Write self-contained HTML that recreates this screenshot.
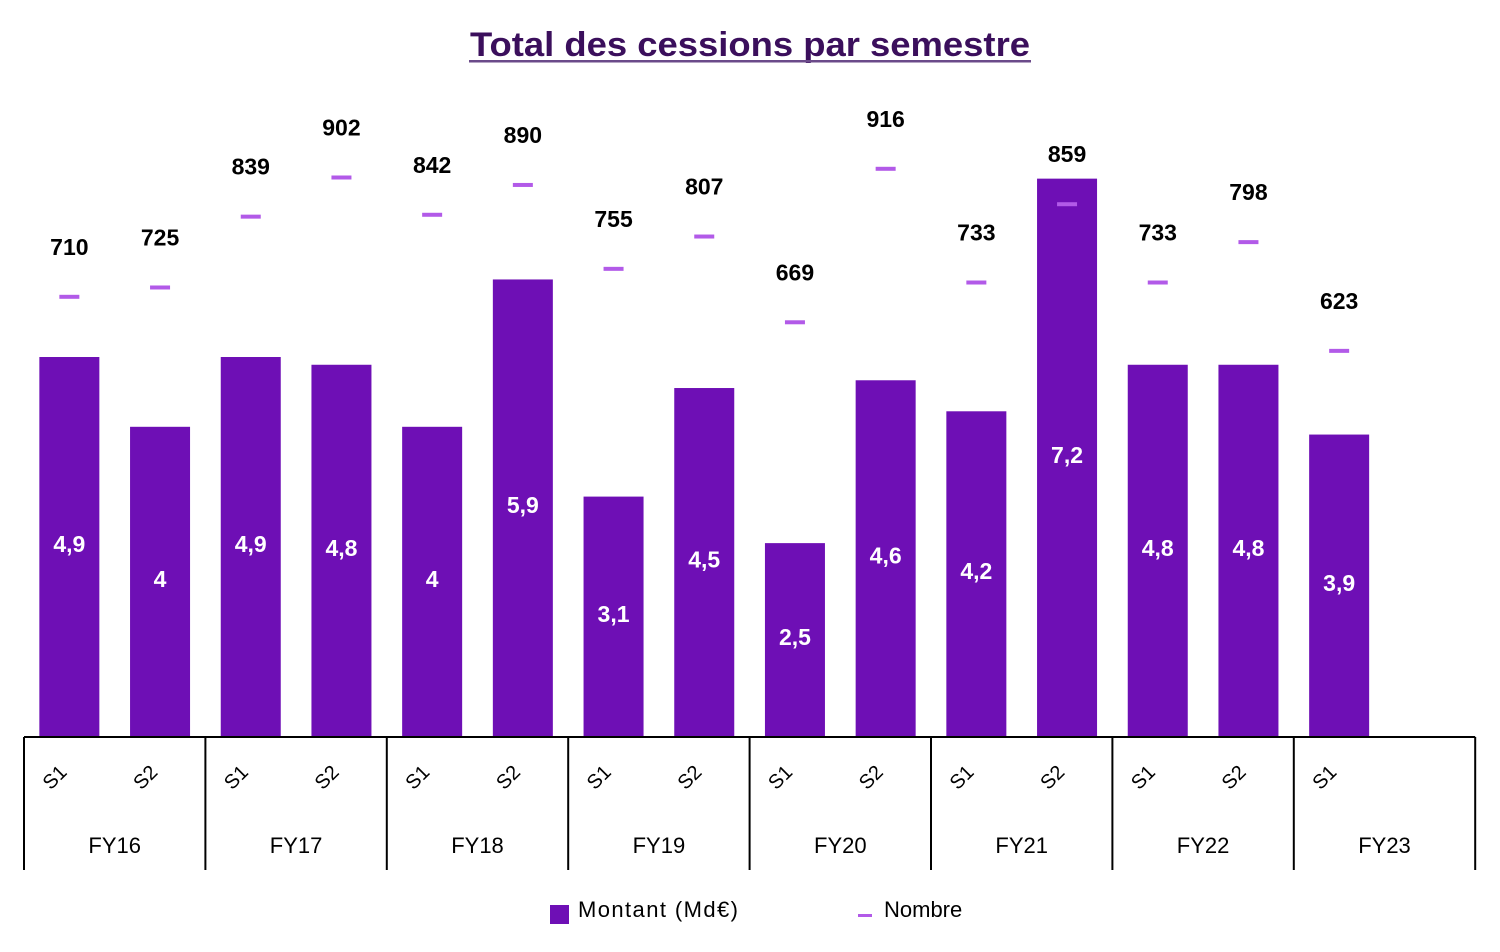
<!DOCTYPE html>
<html><head><meta charset="utf-8">
<style>
html,body{margin:0;padding:0;background:#fff;}
svg{display:block;font-family:"Liberation Sans",sans-serif;}
</style></head>
<body>
<svg id="chart" width="1500" height="952" viewBox="0 0 1500 952">
  <text x="750" y="56" text-anchor="middle" font-size="34" font-weight="bold" fill="#3b0f5c" textLength="560" lengthAdjust="spacingAndGlyphs">Total des cessions par semestre</text>
  <rect x="469" y="60" width="562" height="2.5" fill="#6b4a8a"/>
  <g id="plot"></g>
  <g>
    <g>
      <rect x="550" y="905" width="19" height="19" fill="#6e0fb5"/>
      <text x="578" y="917" font-size="22" fill="#000" textLength="160">Montant (Md€)</text>
    </g>
    <g>
      <rect x="858" y="914" width="14" height="3" fill="#b25ae8"/>
      <text x="884" y="917" font-size="22" fill="#000">Nombre</text>
    </g>
  </g>
</svg>
<script>
const years = ["FY16","FY17","FY18","FY19","FY20","FY21","FY22","FY23"];
const semesters = ["S1","S2","S1","S2","S1","S2","S1","S2","S1","S2","S1","S2","S1","S2","S1"];
const montant = [4.9,4,4.9,4.8,4,5.9,3.1,4.5,2.5,4.6,4.2,7.2,4.8,4.8,3.9];
const nombre = [710,725,839,902,842,890,755,807,669,916,733,859,733,798,623];

const NS = "http://www.w3.org/2000/svg";
const plot = document.getElementById('plot');
const baseY = 737, left = 24, groupW = 181.4, slotW = groupW/2, barW = 60;
function xCenter(i){ return left + slotW*i + slotW/2; }
function yMontant(v){ return baseY - v*77.55; }
function yNombre(v){ return baseY + 1 - v*0.6214; }
function mk(tag, attrs){ const e=document.createElementNS(NS,tag); for(const k in attrs) e.setAttribute(k,attrs[k]); return e; }

montant.forEach((v,i)=>{
  const cx = xCenter(i), top = yMontant(v);
  const r = mk('rect',{x:cx-barW/2,y:top,width:barW,height:baseY-top,fill:'#6e0fb5'});
  
  
  plot.appendChild(r);
  const t = mk('text',{x:cx,y:(top+baseY)/2+5,'text-anchor':'middle','font-size':23,'font-weight':'bold',fill:'#fff'});
  t.textContent = String(v).replace('.',',');
  
  
  plot.appendChild(t);
});
nombre.forEach((v,i)=>{
  const cx = xCenter(i), y = yNombre(v);
  const m = mk('rect',{x:cx-10,y:y-2,width:20,height:4,fill:'#b25ae8'});
  
  
  plot.appendChild(m);
  const t = mk('text',{x:cx,y:y-42,'text-anchor':'middle','font-size':23,'font-weight':'bold',fill:'#000'});
  t.textContent = v;
  
  
  plot.appendChild(t);
});
const ax = mk('line',{x1:left,y1:baseY,x2:left+groupW*8,y2:baseY,stroke:'#000','stroke-width':2});


plot.appendChild(ax);
for(let g=0; g<=years.length; g++){
  const x = left + groupW*g;
  const l = mk('line',{x1:x,y1:baseY,x2:x,y2:870,stroke:'#000','stroke-width':2});
  
  
  plot.appendChild(l);
}
years.forEach((y,g)=>{
  const t = mk('text',{x:left+groupW*g+groupW/2,y:853,'text-anchor':'middle','font-size':22,fill:'#000'});
  t.textContent = y;
  
  
  plot.appendChild(t);
});
semesters.forEach((s,i)=>{
  const cx = xCenter(i)-10, cy = 782;
  const t = mk('text',{x:cx,y:cy,'text-anchor':'middle','font-size':20,fill:'#000',transform:`rotate(-45 ${cx} ${cy})`});
  t.textContent = s;
  
  
  plot.appendChild(t);
});
</script>
</body></html>
